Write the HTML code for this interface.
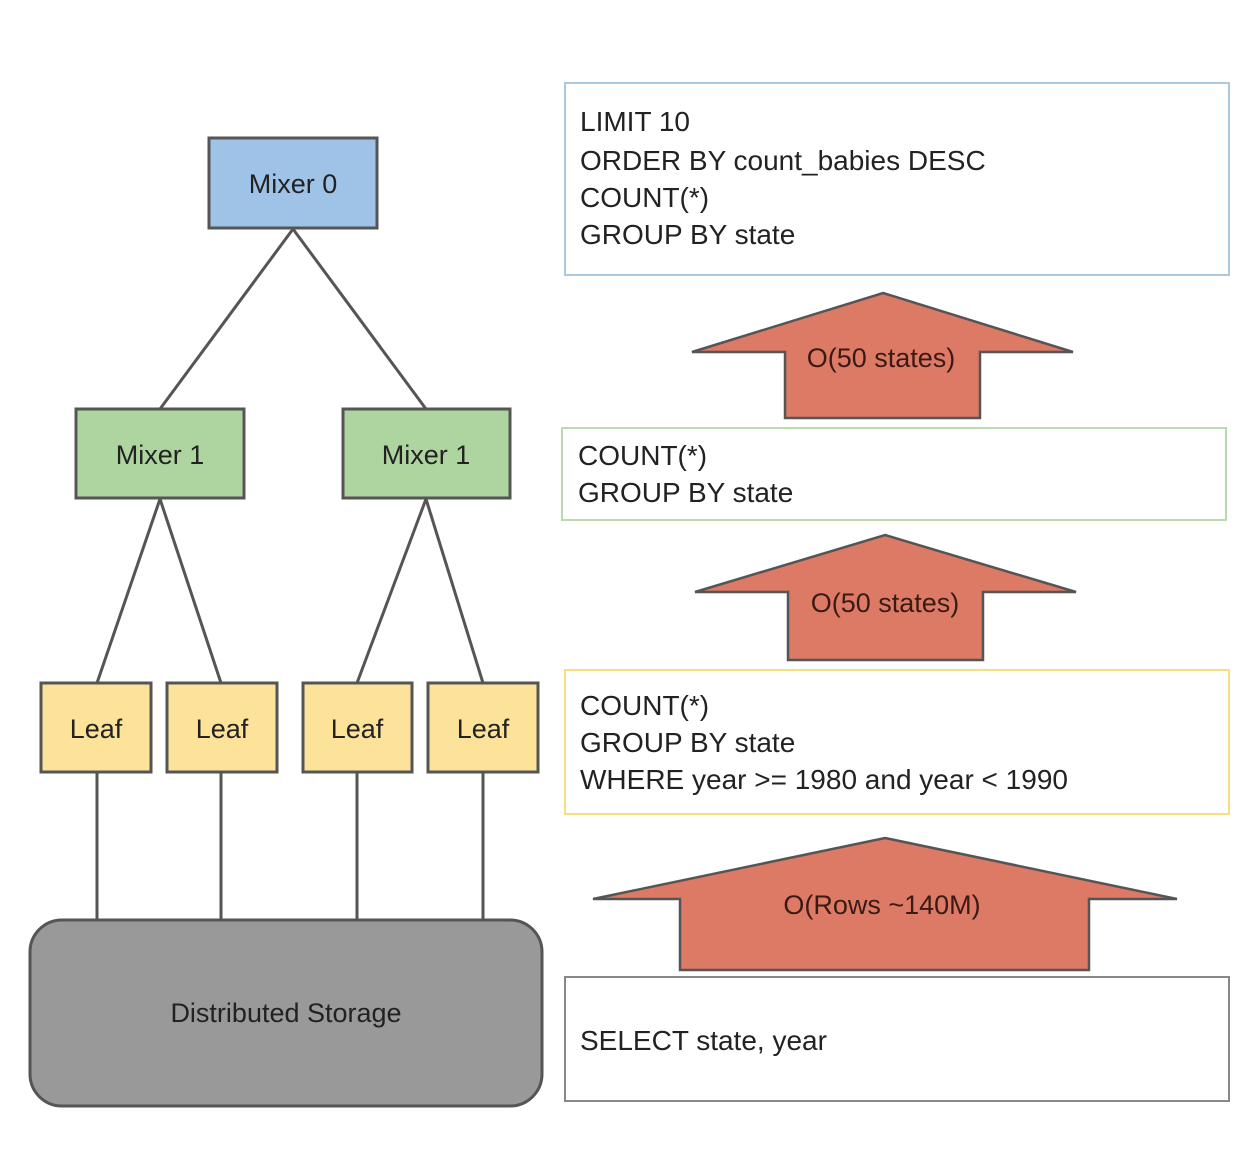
<!DOCTYPE html>
<html><head><meta charset="utf-8"><style>body{margin:0;background:#fff}</style></head><body>
<svg width="1254" height="1160" xmlns="http://www.w3.org/2000/svg" font-family="Liberation Sans, DejaVu Sans, sans-serif">
<rect width="1254" height="1160" fill="#fff"/>
<g stroke="#555" stroke-width="3" fill="none">
<line x1="293" y1="229" x2="160" y2="409"/><line x1="293" y1="229" x2="426" y2="409"/>
<line x1="160" y1="499" x2="97" y2="683"/><line x1="160" y1="499" x2="221" y2="683"/>
<line x1="426" y1="499" x2="357" y2="683"/><line x1="426" y1="499" x2="483" y2="683"/>
<line x1="97" y1="772" x2="97" y2="920"/><line x1="221" y1="772" x2="221" y2="920"/>
<line x1="357" y1="772" x2="357" y2="920"/><line x1="483" y1="772" x2="483" y2="920"/>
</g>
<g stroke="#555" stroke-width="3">
<rect x="209" y="138" width="168" height="90" fill="#9fc3e7"/>
<rect x="76" y="409" width="168" height="89" fill="#aed4a0"/>
<rect x="343" y="409" width="167" height="89" fill="#aed4a0"/>
<rect x="41" y="683" width="110" height="89" fill="#fde299"/>
<rect x="167" y="683" width="110" height="89" fill="#fde299"/>
<rect x="303" y="683" width="109" height="89" fill="#fde299"/>
<rect x="428" y="683" width="110" height="89" fill="#fde299"/>
<rect x="30" y="920" width="512" height="186" rx="32" fill="#999"/>
</g>
<g font-size="27" fill="#222" text-anchor="middle">
<text x="293" y="193">Mixer 0</text>
<text x="160" y="464">Mixer 1</text>
<text x="426" y="464">Mixer 1</text>
<text x="96" y="738">Leaf</text><text x="222" y="738">Leaf</text>
<text x="357" y="738">Leaf</text><text x="483" y="738">Leaf</text>
<text x="286" y="1022">Distributed Storage</text>
</g>
<rect x="565" y="83" width="664" height="192" fill="#fff" stroke="#a9c8e2" stroke-width="2"/>
<rect x="562" y="428" width="664" height="92" fill="#fff" stroke="#b9dbae" stroke-width="2"/>
<rect x="565" y="670" width="664" height="144" fill="#fff" stroke="#f7de7e" stroke-width="2"/>
<rect x="565" y="977" width="664" height="124" fill="#fff" stroke="#888" stroke-width="2"/>
<g stroke="#555" stroke-width="2.5" fill="#dd7a65">
<polygon points="883,293 1073,352 980,352 980,418 785,418 785,352 692,352"/>
<polygon points="885,535 1076,592 983,592 983,660 788,660 788,592 695,592"/>
<polygon points="885,838 1177,899 1089,899 1089,970 680,970 680,899 593,899"/>
</g>
<g font-size="27" fill="#3a1a14" text-anchor="middle">
<text x="881" y="367">O(50 states)</text>
<text x="885" y="612">O(50 states)</text>
<text x="882" y="914">O(Rows ~140M)</text>
</g>
<g font-size="28" fill="#222">
<text x="580" y="131">LIMIT 10</text>
<text x="580" y="170">ORDER BY count_babies DESC</text>
<text x="580" y="207">COUNT(*)</text>
<text x="580" y="244">GROUP BY state</text>
<text x="578" y="465">COUNT(*)</text>
<text x="578" y="502">GROUP BY state</text>
<text x="580" y="715">COUNT(*)</text>
<text x="580" y="752">GROUP BY state</text>
<text x="580" y="789">WHERE year &gt;= 1980 and year &lt; 1990</text>
<text x="580" y="1050">SELECT state, year</text>
</g>
</svg>
</body></html>
